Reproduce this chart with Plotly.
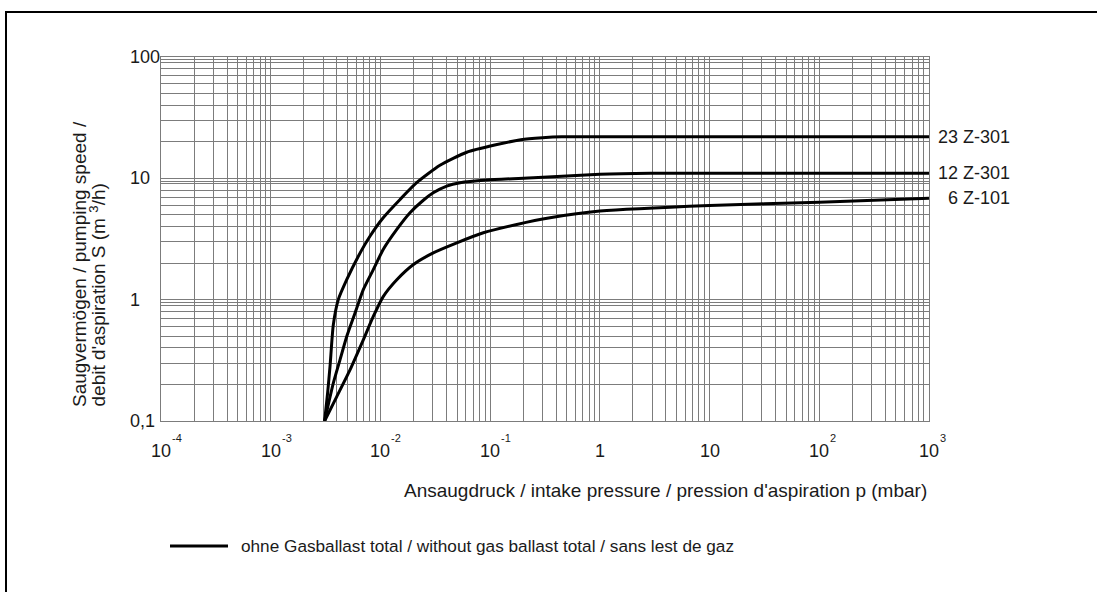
import math
import plotly.graph_objects as go

# ---------------- data ----------------
p_23 = [3.1e-3, 3.3e-3, 3.47e-3, 3.72e-3, 4.13e-3, 4.93e-3, 6.29e-3, 8.03e-3, 0.0106, 0.0151,
        0.0214, 0.0349, 0.0612, 0.11, 0.19, 0.3, 0.45, 1000]
s_23 = [0.1, 0.17, 0.28, 0.62, 1.0, 1.46, 2.28, 3.33, 4.73, 6.7,
        9.2, 12.8, 16.4, 18.8, 20.8, 21.6, 22.0, 22.0]

p_12 = [3.1e-3, 3.72e-3, 4.28e-3, 4.93e-3, 5.87e-3, 6.98e-3, 8.61e-3, 0.0106, 0.0141, 0.0186,
        0.0246, 0.0303, 0.0402, 0.0532, 0.093, 0.248, 1.0, 2.9, 1000]
s_12 = [0.1, 0.205, 0.319, 0.497, 0.776, 1.21, 1.77, 2.59, 3.79, 5.2,
        6.6, 7.6, 8.63, 9.2, 9.68, 10.1, 10.8, 11.0, 11.0]

p_6 = [3.1e-3, 4.0e-3, 5.28e-3, 6.98e-3, 8.61e-3, 0.0106, 0.0141, 0.020, 0.0303, 0.0497,
       0.0867, 0.175, 0.352, 1.0, 10, 100, 1000]
s_6 = [0.1, 0.159, 0.264, 0.467, 0.727, 1.06, 1.46, 1.95, 2.43, 2.94,
       3.56, 4.17, 4.73, 5.37, 5.98, 6.34, 6.84]

series_names = ["23 Z-301", "12 Z-301", "6 Z-101"]

x_tick_vals = [1e-4, 1e-3, 1e-2, 1e-1, 1, 10, 100, 1000]
x_tick_base = ["10", "10", "10", "10", "1", "10", "10", "10"]
x_tick_exp = ["-4", "-3", "-2", "-1", "", "", "2", "3"]

y_tick_vals = [0.1, 1, 10, 100]
y_tick_text = ["0,1", "1", "10", "100"]

minor_x = [2, 3, 4, 5, 6, 7, 8, 9]
minor_y = [2, 3, 4, 5, 6, 7, 8, 9, 9.5]

x_title = "Ansaugdruck / intake pressure / pression d'aspiration p (mbar)"
y_title_lines = ["Saugvermögen / pumping speed /", "debit d'aspiration S (m <sup>3</sup>/h)"]
legend_text = "ohne Gasballast total / without gas ballast total / sans lest de gaz"

# ---------------- figure ----------------
W, H = 1097, 592
L, R, T, B = 161, 168, 57, 171
FONT = "Liberation Sans, Arial, Helvetica, sans-serif"
TXT = "#1a1a1a"
GRID = "#7c7c7c"

x_grid = []
for e in range(-4, 3):
    x_grid.append(10.0 ** e)
    x_grid += [m * 10.0 ** e for m in minor_x]
x_grid.append(1000.0)

y_grid = []
for e in range(-1, 2):
    y_grid.append(10.0 ** e)
    y_grid += [m * 10.0 ** e for m in minor_y]
y_grid.append(100.0)

fig = go.Figure()
for px_, sy_, nm in zip([p_23, p_12, p_6], [s_23, s_12, s_6], series_names):
    fig.add_trace(go.Scatter(
        x=px_, y=sy_, mode="lines", name=nm, showlegend=False,
        line=dict(color="black", width=3, shape="spline", smoothing=0.6),
        hoverinfo="skip"))

annotations = []
# x tick labels (base + superscript)
for v, b, ex in zip(x_tick_vals, x_tick_base, x_tick_exp):
    annotations.append(dict(x=math.log10(v), xref="x", y=0, yref="paper",
                            text=b, showarrow=False, xanchor="center", yanchor="middle",
                            yshift=-30, font=dict(family=FONT, size=18, color=TXT)))
    if ex:
        annotations.append(dict(x=math.log10(v), xref="x", y=0, yref="paper",
                                text=ex, showarrow=False, xanchor="left", yanchor="middle",
                                xshift=9, yshift=-17, font=dict(family=FONT, size=11, color=TXT)))
# y tick labels (left aligned)
for v, t in zip(y_tick_vals, y_tick_text):
    annotations.append(dict(x=0, xref="paper", y=math.log10(v), yref="y",
                            text=t, showarrow=False, xanchor="left", yanchor="middle",
                            xshift=-33, font=dict(family=FONT, size=18, color=TXT)))
# series labels at the right end of each curve
for sy_, nm in zip([s_23, s_12, s_6], series_names):
    annotations.append(dict(x=1, xref="paper", y=math.log10(sy_[-1]), yref="y",
                            text=nm, showarrow=False, xanchor="right", yanchor="middle",
                            xshift=83, font=dict(family=FONT, size=18, color=TXT)))
# axis titles
annotations.append(dict(x=1, xref="paper", y=0, yref="paper", text=x_title,
                        showarrow=False, xanchor="right", yanchor="middle", yshift=-69,
                        font=dict(family=FONT, size=19, color=TXT)))
for i, line_txt in enumerate(y_title_lines):
    annotations.append(dict(x=0, xref="paper", y=0, yref="paper", text=line_txt,
                            showarrow=False, textangle=-90,
                            xanchor="center", yanchor="bottom", xshift=-82 + 18 * i, yshift=12,
                            font=dict(family=FONT, size=19, color=TXT)))
# legend text
annotations.append(dict(x=0, xref="paper", y=0, yref="paper", text=legend_text,
                        showarrow=False, xanchor="left", yanchor="middle",
                        xshift=78, yshift=-125, font=dict(family=FONT, size=17.2, color=TXT)))

pw, ph = W - L - R, H - T - B
shapes = [
    # legend line sample
    dict(type="line", xref="paper", yref="paper",
         x0=(170 - L) / pw, x1=(228 - L) / pw, y0=-125 / ph, y1=-125 / ph,
         line=dict(color="black", width=3)),
    # outer frame
    dict(type="rect", xref="paper", yref="paper",
         x0=(6 - L) / pw, x1=(W + 20 - L) / pw, y0=-(B + 20) / ph, y1=(H - B - 12) / ph,
         line=dict(color="black", width=2), fillcolor="rgba(0,0,0,0)"),
]

axis_common = dict(showgrid=True, gridcolor=GRID, gridwidth=1, showline=True,
                   linecolor=GRID, linewidth=1, mirror=True, zeroline=False,
                   ticks="", showticklabels=False)
fig.update_layout(
    width=W, height=H, autosize=False,
    margin=dict(l=L, r=R, t=T, b=B, pad=0),
    paper_bgcolor="white", plot_bgcolor="white",
    xaxis=dict(type="log", range=[-4, 3], tickmode="array", tickvals=x_grid, **axis_common),
    yaxis=dict(type="log", range=[-1, 2], tickmode="array", tickvals=y_grid, **axis_common),
    annotations=annotations, shapes=shapes, showlegend=False,
    font=dict(family=FONT, color=TXT),
)
fig.write_html(
    "out.html",
    config={"displayModeBar": False, "staticPlot": True},
    post_script=("document.body.style.margin='0px';document.body.style.padding='0px';"
                 "document.body.style.overflow='hidden';"
                 "document.documentElement.style.overflow='hidden';"),
)
